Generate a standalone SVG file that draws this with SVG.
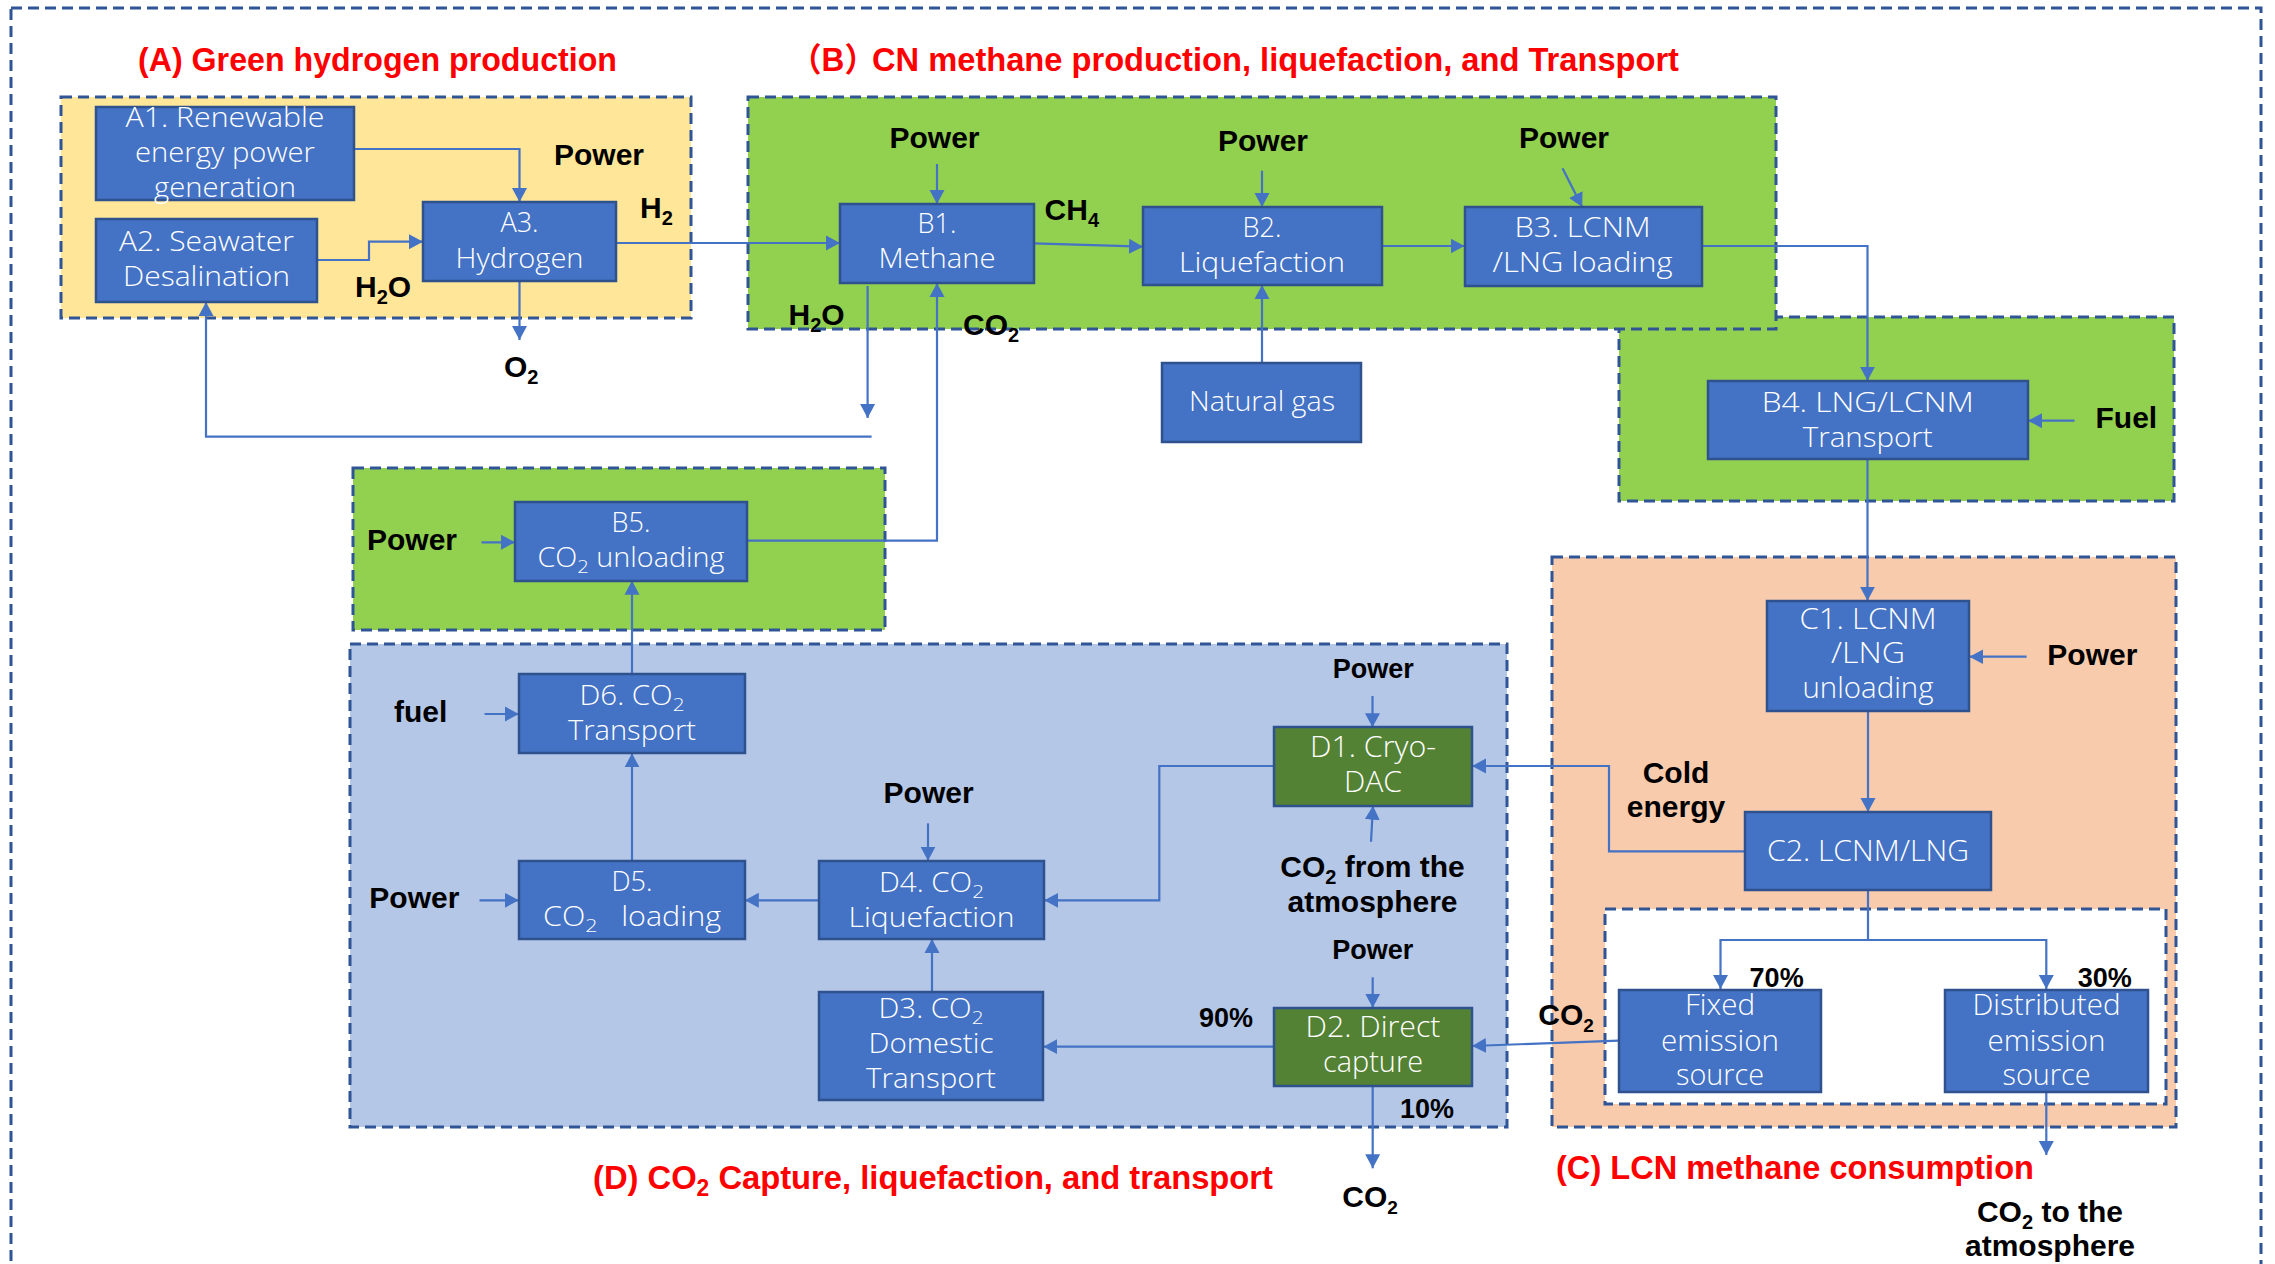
<svg xmlns="http://www.w3.org/2000/svg" width="2275" height="1264" viewBox="0 0 2275 1264">
<defs>
<style>
.node{fill:#4472C4;stroke:#2F528F;stroke-width:2.5}
.gnode{fill:#548235;stroke:#2F528F;stroke-width:2.5}
.nt{font-family:"Open Sans","Noto Sans",sans-serif;font-weight:300;font-size:27px;fill:#fff;text-anchor:middle}
.nt2{font-size:29px}
.lb{font-family:"Liberation Sans",Arial,sans-serif;font-weight:bold;font-size:30px;fill:#000}
.lbs{font-size:27px}
.mid{text-anchor:middle}
.title{font-family:"Liberation Sans","Noto Sans CJK JP",sans-serif;font-weight:bold;font-size:33px;fill:#FF0000}
.region{stroke:#2F5597;stroke-width:3;stroke-dasharray:11 6}
.conn{fill:none;stroke:#4472C4;stroke-width:2.2}
.arr{marker-end:url(#ah)}
</style>
<marker id="ah" markerUnits="userSpaceOnUse" markerWidth="16" markerHeight="16" refX="14" refY="8" orient="auto">
<path d="M0,0.5 L14,8 L0,15.5 z" fill="#4472C4"/>
</marker>
</defs>
<rect width="2275" height="1264" fill="#fff"/>

<g id="regions">
<rect id="outer" x="11" y="8" width="2250" height="1275" fill="none" class="region"/>
<rect id="regionA" x="61" y="97" width="630" height="221" fill="#FFE699" class="region"/>
<rect id="regionB4" x="1619" y="317" width="555" height="184" fill="#92D050" class="region"/>
<rect id="regionB" x="748" y="97" width="1028" height="232" fill="#92D050" class="region"/>
<rect id="regionB5" x="353" y="468" width="532" height="162" fill="#92D050" class="region"/>
<rect id="regionD" x="350" y="644" width="1157" height="483" fill="#B4C7E7" class="region"/>
<rect id="regionC" x="1552" y="557" width="624" height="570" fill="#F8CBAD" class="region"/>
<rect id="regionCinner" x="1605" y="909" width="561" height="195" fill="#fff" class="region"/>
</g>

<g id="titles">
<text class="title" x="138" y="71" textLength="479" lengthAdjust="spacingAndGlyphs">(A) Green hydrogen production</text>
<text class="title" x="790" y="71" textLength="86" lengthAdjust="spacingAndGlyphs">（B）</text>
<text class="title" x="872" y="71" textLength="807" lengthAdjust="spacingAndGlyphs">CN methane production, liquefaction, and Transport</text>
<text class="title" x="1556" y="1179" textLength="478" lengthAdjust="spacingAndGlyphs">(C) LCN methane consumption</text>
<text class="title" x="593" y="1189" textLength="680" lengthAdjust="spacingAndGlyphs">(D) CO<tspan font-size="23" dy="7">2</tspan><tspan dy="-7"> Capture, liquefaction, and transport</tspan></text>
</g>

<g id="connectors">
<path class="conn arr" d="M354,149 H519.5 V202"/>
<path class="conn arr" d="M317,260 H369 V241.7 H423"/>
<path class="conn arr" d="M616,243 H840"/>
<path class="conn arr" d="M519.5,281 V340"/>
<path class="conn arr" d="M867.6,286 V418"/>
<path class="conn arr" d="M871.6,436.7 H206 V302"/>
<path class="conn arr" d="M747.3,540.7 H937 V283"/>
<path class="conn arr" d="M937,164 V204"/>
<path class="conn arr" d="M1034,243.3 L1143,246.7"/>
<path class="conn arr" d="M1262,170.7 V207"/>
<path class="conn arr" d="M1262,363.3 V285"/>
<path class="conn arr" d="M1382,246 H1464.5"/>
<path class="conn arr" d="M1562.5,168.3 L1582.2,207"/>
<path class="conn arr" d="M1702,246 H1867.5 V380.7"/>
<path class="conn arr" d="M2074.5,420.7 H2028"/>
<path class="conn arr" d="M1867.5,459 V600.7"/>
<path class="conn arr" d="M2026.6,656.7 H1969.4"/>
<path class="conn arr" d="M1868,711 V812"/>
<path class="conn arr" d="M1745.3,851.3 H1609 V766 H1472"/>
<path class="conn arr" d="M1868,890 V940 H1720.5 V989"/>
<path class="conn arr" d="M1868,940 H2046.3 V989"/>
<path class="conn arr" d="M2046.3,1092 V1155"/>
<path class="conn arr" d="M1618.8,1040.6 L1472,1046"/>
<path class="conn arr" d="M1372.7,977.3 V1007.7"/>
<path class="conn arr" d="M1273.7,1046.7 H1043.3"/>
<path class="conn arr" d="M1372.7,1085.7 V1168.3"/>
<path class="conn arr" d="M1371,841.7 L1373,805.7"/>
<path class="conn arr" d="M1372.5,696 V727.3"/>
<path class="conn arr" d="M1274,766 H1159.3 V900.3 H1044.3"/>
<path class="conn arr" d="M932,992 V939"/>
<path class="conn arr" d="M818.8,900.3 H744.8"/>
<path class="conn arr" d="M928,823.3 V860.7"/>
<path class="conn arr" d="M479.5,900.3 H518.8"/>
<path class="conn arr" d="M632,860.7 V753.3"/>
<path class="conn arr" d="M484.6,714 H518.8"/>
<path class="conn arr" d="M632,674 V580.7"/>
<path class="conn arr" d="M481.5,542.3 H515"/>
</g>

<g id="A1"><rect class="node" x="96" y="107" width="258" height="93"/>
<text class="nt" x="225" y="127" textLength="199" lengthAdjust="spacingAndGlyphs">A1. Renewable</text>
<text class="nt" x="225" y="162" textLength="180" lengthAdjust="spacingAndGlyphs">energy power</text>
<text class="nt" x="225" y="197" textLength="142" lengthAdjust="spacingAndGlyphs">generation</text></g>

<g id="A2"><rect class="node" x="96" y="219" width="221" height="83"/>
<text class="nt" x="206.5" y="251" textLength="175" lengthAdjust="spacingAndGlyphs">A2. Seawater</text>
<text class="nt" x="206.5" y="286" textLength="167" lengthAdjust="spacingAndGlyphs">Desalination</text></g>

<g id="A3"><rect class="node" x="423" y="202" width="193" height="79"/>
<text class="nt" x="519.5" y="232">A3.</text>
<text class="nt" x="519.5" y="268" textLength="128" lengthAdjust="spacingAndGlyphs">Hydrogen</text></g>

<g id="B1"><rect class="node" x="840" y="204" width="194" height="79"/>
<text class="nt" x="937" y="233">B1.</text>
<text class="nt" x="937" y="268" textLength="117" lengthAdjust="spacingAndGlyphs">Methane</text></g>

<g id="B2"><rect class="node" x="1143" y="207" width="239" height="78"/>
<text class="nt" x="1262" y="237">B2.</text>
<text class="nt" x="1262" y="272" textLength="166" lengthAdjust="spacingAndGlyphs">Liquefaction</text></g>

<g id="B3"><rect class="node" x="1465" y="207" width="237" height="79"/>
<text class="nt" x="1582.5" y="237" textLength="136" lengthAdjust="spacingAndGlyphs">B3. LCNM</text>
<text class="nt" x="1582.5" y="272" textLength="180" lengthAdjust="spacingAndGlyphs">/LNG loading</text></g>

<g id="NG"><rect class="node" x="1162" y="363" width="199" height="79"/>
<text class="nt" x="1262" y="411" textLength="146" lengthAdjust="spacingAndGlyphs">Natural gas</text></g>

<g id="B4"><rect class="node" x="1708" y="381" width="320" height="78"/>
<text class="nt" x="1867.7" y="412" textLength="212" lengthAdjust="spacingAndGlyphs">B4. LNG/LCNM</text>
<text class="nt" x="1867.7" y="447" textLength="130" lengthAdjust="spacingAndGlyphs">Transport</text></g>

<g id="B5"><rect class="node" x="515" y="502" width="232" height="79"/>
<text class="nt" x="631" y="532">B5.</text>
<text class="nt" x="631" y="567" textLength="187" lengthAdjust="spacingAndGlyphs">CO<tspan font-size="19" dy="6">2</tspan><tspan dy="-6"> unloading</tspan></text></g>

<g id="C1"><rect class="node" x="1767" y="601" width="202" height="110"/>
<text class="nt nt2" x="1868" y="629" textLength="137" lengthAdjust="spacingAndGlyphs">C1. LCNM</text>
<text class="nt nt2" x="1868" y="663" textLength="74" lengthAdjust="spacingAndGlyphs">/LNG</text>
<text class="nt nt2" x="1868" y="698" textLength="131" lengthAdjust="spacingAndGlyphs">unloading</text></g>

<g id="C2"><rect class="node" x="1745" y="812" width="246" height="78"/>
<text class="nt nt2" x="1868" y="861" textLength="202" lengthAdjust="spacingAndGlyphs">C2. LCNM/LNG</text></g>

<g id="Fixed"><rect class="node" x="1619" y="990" width="202" height="102"/>
<text class="nt nt2" x="1720" y="1015" textLength="70" lengthAdjust="spacingAndGlyphs">Fixed</text>
<text class="nt nt2" x="1720" y="1051" textLength="118" lengthAdjust="spacingAndGlyphs">emission</text>
<text class="nt nt2" x="1720" y="1085" textLength="88" lengthAdjust="spacingAndGlyphs">source</text></g>

<g id="Distributed"><rect class="node" x="1945" y="990" width="203" height="102"/>
<text class="nt nt2" x="2046.5" y="1015" textLength="148" lengthAdjust="spacingAndGlyphs">Distributed</text>
<text class="nt nt2" x="2046.5" y="1051" textLength="118" lengthAdjust="spacingAndGlyphs">emission</text>
<text class="nt nt2" x="2046.5" y="1085" textLength="88" lengthAdjust="spacingAndGlyphs">source</text></g>

<g id="D1"><rect class="gnode" x="1274" y="727" width="198" height="79"/>
<text class="nt nt2" x="1373" y="757" textLength="126" lengthAdjust="spacingAndGlyphs">D1. Cryo-</text>
<text class="nt nt2" x="1373" y="792" textLength="58" lengthAdjust="spacingAndGlyphs">DAC</text></g>

<g id="D2"><rect class="gnode" x="1274" y="1008" width="198" height="78"/>
<text class="nt nt2" x="1373" y="1037" textLength="135" lengthAdjust="spacingAndGlyphs">D2. Direct</text>
<text class="nt nt2" x="1373" y="1072" textLength="100" lengthAdjust="spacingAndGlyphs">capture</text></g>

<g id="D3"><rect class="node" x="819" y="992" width="224" height="108"/>
<text class="nt" x="931" y="1018" textLength="105" lengthAdjust="spacingAndGlyphs">D3. CO<tspan font-size="19" dy="6">2</tspan></text>
<text class="nt" x="931" y="1053" textLength="125" lengthAdjust="spacingAndGlyphs">Domestic</text>
<text class="nt" x="931" y="1088" textLength="130" lengthAdjust="spacingAndGlyphs">Transport</text></g>

<g id="D4"><rect class="node" x="819" y="861" width="225" height="78"/>
<text class="nt" x="931.5" y="892" textLength="105" lengthAdjust="spacingAndGlyphs">D4. CO<tspan font-size="19" dy="6">2</tspan></text>
<text class="nt" x="931.5" y="927" textLength="166" lengthAdjust="spacingAndGlyphs">Liquefaction</text></g>

<g id="D5"><rect class="node" x="519" y="861" width="226" height="78"/>
<text class="nt" x="632" y="891">D5.</text>
<text class="nt" x="632" y="926" textLength="178" lengthAdjust="spacingAndGlyphs" xml:space="preserve">CO<tspan font-size="19" dy="6">2</tspan><tspan dy="-6">   loading</tspan></text></g>

<g id="D6"><rect class="node" x="519" y="674" width="226" height="79"/>
<text class="nt" x="632" y="705" textLength="105" lengthAdjust="spacingAndGlyphs">D6. CO<tspan font-size="19" dy="6">2</tspan></text>
<text class="nt" x="632" y="740" textLength="128" lengthAdjust="spacingAndGlyphs">Transport</text></g>

<g id="labels">
<text class="lb" x="554" y="165">Power</text>
<text class="lb" x="640" y="218">H<tspan font-size="20" dy="7">2</tspan></text>
<text class="lb" x="355" y="297">H<tspan font-size="20" dy="7">2</tspan><tspan dy="-7">O</tspan></text>
<text class="lb" x="504" y="377">O<tspan font-size="20" dy="7">2</tspan></text>
<text class="lb" x="889.5" y="148">Power</text>
<text class="lb" x="1044.6" y="220">CH<tspan font-size="20" dy="7">4</tspan></text>
<text class="lb" x="1218" y="151">Power</text>
<text class="lb" x="1519" y="148">Power</text>
<text class="lb" x="788.5" y="325">H<tspan font-size="20" dy="7">2</tspan><tspan dy="-7">O</tspan></text>
<text class="lb" x="963" y="335">CO<tspan font-size="20" dy="7">2</tspan></text>
<text class="lb" x="2095.5" y="428">Fuel</text>
<text class="lb" x="367" y="550">Power</text>
<text class="lb" x="394" y="722">fuel</text>
<text class="lb" x="883.6" y="803">Power</text>
<text class="lb lbs" x="1332.7" y="678">Power</text>
<text class="lb" x="369.3" y="908">Power</text>
<text class="lb mid" x="1372.5" y="877">CO<tspan font-size="20" dy="7">2</tspan><tspan dy="-7"> from the</tspan></text>
<text class="lb mid" x="1372.5" y="912">atmosphere</text>
<text class="lb lbs" x="1332.3" y="959">Power</text>
<text class="lb lbs" x="1199" y="1027">90%</text>
<text class="lb lbs" x="1400" y="1118">10%</text>
<text class="lb" x="1342.3" y="1207" font-size="28">CO<tspan font-size="19" dy="7">2</tspan></text>
<text class="lb" x="1538.3" y="1025" font-size="28">CO<tspan font-size="19" dy="7">2</tspan></text>
<text class="lb" x="2047.3" y="665">Power</text>
<text class="lb mid" x="1676" y="783" font-size="28">Cold</text>
<text class="lb mid" x="1676" y="817" font-size="28">energy</text>
<text class="lb lbs" x="1749.6" y="987">70%</text>
<text class="lb lbs" x="2077.7" y="987">30%</text>
<text class="lb mid" x="2050" y="1222">CO<tspan font-size="20" dy="7">2</tspan><tspan dy="-7"> to the</tspan></text>
<text class="lb mid" x="2050" y="1256">atmosphere</text>
</g>
</svg>
